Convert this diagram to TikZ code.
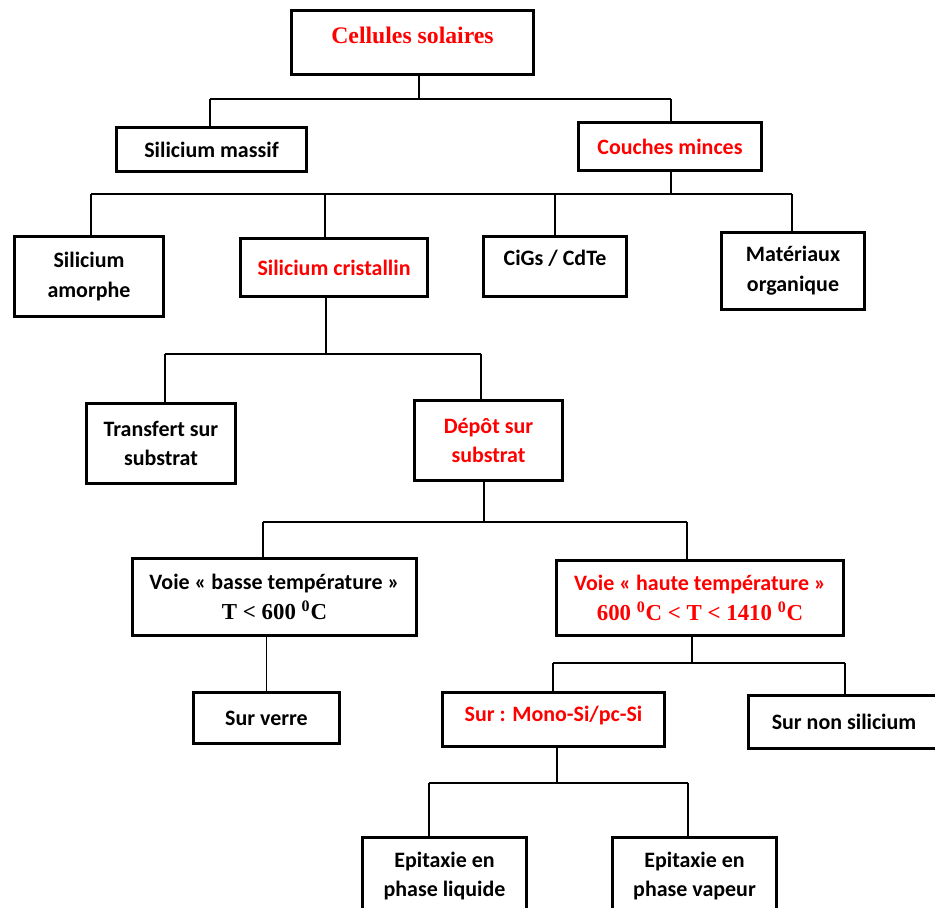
\documentclass[tikz,border=0pt]{standalone}
\usepackage{fontspec}
\setmainfont{Carlito}
\newfontfamily\tnr{Liberation Serif}
\usetikzlibrary{positioning}
\tikzset{
    box/.style = {rectangle, line width=1.6pt, draw=black, align=center, inner sep=2pt, font=\bfseries\fontsize{12.5}{17}\selectfont},
    boxr/.style = {box, text=red},
    wh/.style 2 args = {minimum width=#1*0.2mm-1.6pt, minimum height=#2*0.2mm-1.6pt},
    wire/.style = {line width=0.8pt},
    bus/.style = {line width=1.5pt},
    titlefont/.style = {font=\tnr\bfseries\fontsize{13.5}{16}\selectfont}
}
\newcommand{\dgr}{\textsuperscript{0}}

\begin{document}
\begin{tikzpicture}[x=0.2mm,y=-0.2mm]
\useasboundingbox (0,0) rectangle (935,908);
% boxes
\node[boxr, titlefont, text depth=8pt, wh={245}{67}] at (412.5, 42.5) (cs) {Cellules solaires};
\node[box,  wh={193}{47}] at (211.5, 149.5) (sm) {Silicium massif};
\node[boxr, wh={186}{51}] at (670.0, 146.5) (cm) {Couches minces};
\node[box,  wh={152}{83}] at (89.0, 276.5) (sa) {Silicium\\amorphe};
\node[boxr, wh={190}{61}] at (334.0, 267.5) (sc) {Silicium cristallin};
\node[box,  text depth=10pt, wh={146}{63}] at (555.0, 266.5) (cg) {CiGs / CdTe};
\node[box,  wh={146}{80}] at (793.0, 271.0) (mo) {Matériaux\\organique};
\node[box,  wh={152}{83}] at (161.0, 443.5) (ts) {Transfert sur\\substrat};
\node[boxr, wh={151}{83}] at (488.5, 440.5) (ds) {Dépôt sur\\substrat};
\node[box,  wh={287}{80}] at (274.5, 597.0) (vb) {Voie « basse température »\\{\tnr\fontsize{13}{17}\selectfont T < 600 \dgr C}};
\node[boxr, wh={290}{78}] at (700.0, 598.0) (vh) {Voie « haute température »\\{\tnr\fontsize{13}{17}\selectfont 600 \dgr C < T < 1410 \dgr C}};
\node[box,  wh={149}{54}] at (266.5, 718.0) (sv) {Sur verre};
\node[boxr, text depth=6pt, wh={225}{57}] at (553.5, 719.5) (ms) {Sur : Mono-Si/pc-Si};
\node[box,  wh={194}{56}] at (844.0, 722.0) (sn) {Sur non silicium};
\node[box,  wh={167}{80}] at (444.5, 876.0) (el) {Epitaxie en\\phase liquide};
\node[box,  wh={167}{80}] at (694.5, 876.0) (ev) {Epitaxie en\\phase vapeur};
%
% level 1
\coordinate (b1l) at (210,99);
\coordinate (b1p) at (419,99);
\coordinate (b1r) at (671,99);
\draw[wire] (b1l) -- (b1r);
\draw[wire] (cs.south -| b1p) -- (b1p);
\draw[wire] (b1l) -- (b1l |- sm.north);
\draw[wire] (b1r) -- (b1r |- cm.north);
% level 2
\coordinate (b2l) at (91,194);
\coordinate (b2a) at (325,194);
\coordinate (b2b) at (555,194);
\coordinate (b2p) at (671,194);
\coordinate (b2r) at (792,194);
\draw[bus] (b2l) -- (b2r);
\draw[wire] (cm.south -| b2p) -- (b2p);
\draw[wire] (b2l) -- (b2l |- sa.north);
\draw[wire] (b2a) -- (b2a |- sc.north);
\draw[wire] (b2b) -- (b2b |- cg.north);
\draw[wire] (b2r) -- (b2r |- mo.north);
% level 3
\coordinate (b3l) at (165,354);
\coordinate (b3p) at (326,354);
\coordinate (b3r) at (481,354);
\draw[bus] (b3l) -- (b3r);
\draw[wire] (sc.south -| b3p) -- (b3p);
\draw[wire] (b3l) -- (b3l |- ts.north);
\draw[wire] (b3r) -- (b3r |- ds.north);
% level 4
\coordinate (b4l) at (263,522);
\coordinate (b4p) at (484,522);
\coordinate (b4r) at (687,522);
\draw[bus] (b4l) -- (b4r);
\draw[wire] (ds.south -| b4p) -- (b4p);
\draw[wire] (b4l) -- (b4l |- vb.north);
\draw[wire] (b4r) -- (b4r |- vh.north);
\draw[wire] (vb.south -| sv.north) -- (sv.north);
% level 5
\coordinate (b5l) at (553,663);
\coordinate (b5p) at (692,663);
\coordinate (b5r) at (845,663);
\draw[bus] (b5l) -- (b5r);
\draw[wire] (vh.south -| b5p) -- (b5p);
\draw[wire] (b5l) -- (b5l |- ms.north);
\draw[wire] (b5r) -- (b5r |- sn.north);
% level 6
\coordinate (b6l) at (429,783);
\coordinate (b6p) at (557,783);
\coordinate (b6r) at (688,783);
\draw[bus] (b6l) -- (b6r);
\draw[wire] (ms.south -| b6p) -- (b6p);
\draw[wire] (b6l) -- (b6l |- el.north);
\draw[wire] (b6r) -- (b6r |- ev.north);
\end{tikzpicture}
\end{document}
